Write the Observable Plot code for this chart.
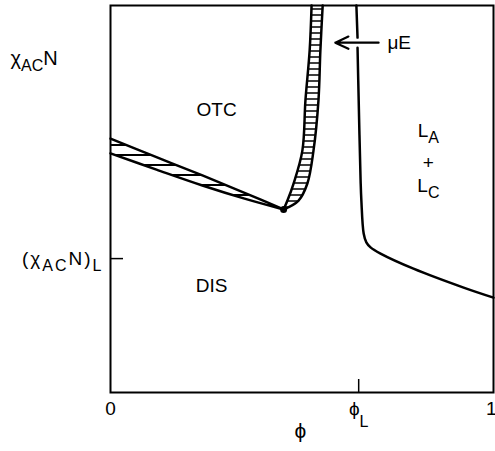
<!DOCTYPE html>
<html><head><meta charset="utf-8">
<script src="https://cdn.jsdelivr.net/npm/d3@7"></script>
<script src="https://cdn.jsdelivr.net/npm/@observablehq/plot@0.6"></script>
<style>
body{margin:0;background:#fff}
svg{font-family:"Liberation Sans",Arial,"DejaVu Sans",sans-serif}
</style>
</head><body><div id="chart"></div>
<script>
// ---- data (x = phi in [0,1], y = chi_AC N scaled to [0,1]) ----
const phiL = 0.648;
const chiL = 0.346;
const xTicks = [0, phiL, 1];
const xTickLabels = ["0", "ϕ_{L}", "1"];
const yTicks = [chiL];
const yTickLabels = ["(χ_{AC}N)_{L}"];

// left hatched band (OTC / DIS boundary), function of phi
const bandPhi   = [0, 0.12, 0.24, 0.35, 0.452];
const bandUpper = [0.656, 0.608, 0.561, 0.516, 0.473];
const bandLower = [0.618, 0.576, 0.535, 0.501, 0.473];

// steep hatched band (OTC / L boundary), function of chi
const vBandChi   = [1.0, 0.884, 0.755, 0.625, 0.540, 0.496, 0.473];
const vBandLeft  = [0.525, 0.520, 0.509, 0.501, 0.478, 0.462, 0.452];
const vBandRight = [0.554, 0.548, 0.543, 0.530, 0.514, 0.491, 0.452];

// Lifshitz point
const lifPhi = [0.452];
const lifChi = [0.473];

// right boundary curve (L_A + L_C), broken where the arrow passes
const curvePhi = [0.642, 0.645, NaN, 0.645, 0.648, 0.653, 0.655, 0.661, 0.668, 0.679, 0.705, 0.791, 0.922, 1.0];
const curveChi = [1.0, 0.917, NaN, 0.891, 0.755, 0.548, 0.496, 0.411, 0.388, 0.375, 0.359, 0.320, 0.271, 0.245];

// muE arrow
const arrowPhi1 = [0.700], arrowPhi2 = [0.587], arrowChi = [0.904];
const arrowLabel = ["μE"];
const arrowLabelPhi = [0.723];

// region labels
const regionText = ["OTC", "DIS", "L_{A}", "+", "L_{C}"];
const regionPhi  = [0.277, 0.264, 0.830, 0.830, 0.830];
const regionChi  = [0.729, 0.276, 0.677, 0.594, 0.535];

// axis titles
const yTitle = ["χ_{AC}N"], yTitlePhi = [-0.261], yTitleChi = [0.864];
const xTitle = ["ϕ"], xTitlePhi = [0.496], xTitleChi = [-0.101];

const idx = a => d3.range(a.length);
const FS = 19;

const plot = Plot.plot({
  width: 495, height: 451,
  marginLeft: 110, marginRight: 2, marginTop: 5, marginBottom: 59,
  x: {domain: [0, 1]},
  y: {domain: [0, 1]},
  style: {fontSize: FS + "px", background: "#fff", color: "#000"},
  marks: [
    Plot.areaY(idx(bandPhi), {x: i => bandPhi[i], y1: i => bandLower[i], y2: i => bandUpper[i], fill: "url(#hatchL)", curve: "catmull-rom"}),
    Plot.areaX(idx(vBandChi), {y: i => vBandChi[i], x1: i => vBandLeft[i], x2: i => vBandRight[i], fill: "url(#hatchV)", curve: "catmull-rom"}),
    Plot.line(idx(bandPhi), {x: i => bandPhi[i], y: i => bandUpper[i], stroke: "black", strokeWidth: 2.5, curve: "catmull-rom"}),
    Plot.line(idx(bandPhi), {x: i => bandPhi[i], y: i => bandLower[i], stroke: "black", strokeWidth: 2.5, curve: "catmull-rom"}),
    Plot.line(idx(vBandChi), {x: i => vBandLeft[i], y: i => vBandChi[i], stroke: "black", strokeWidth: 2.5, curve: "catmull-rom"}),
    Plot.line(idx(vBandChi), {x: i => vBandRight[i], y: i => vBandChi[i], stroke: "black", strokeWidth: 2.5, curve: "catmull-rom"}),
    Plot.line(idx(curvePhi), {x: i => curvePhi[i], y: i => curveChi[i], stroke: "black", strokeWidth: 2.5, curve: "catmull-rom"}),
    Plot.dot(idx(lifPhi), {x: i => lifPhi[i], y: i => lifChi[i], r: 3.5, fill: "black"}),
    Plot.arrow(idx(arrowChi), {x1: i => arrowPhi1[i], x2: i => arrowPhi2[i], y1: i => arrowChi[i], y2: i => arrowChi[i], stroke: "black", strokeWidth: 2.2, headLength: 11, headAngle: 50}),
    Plot.text(idx(arrowLabel), {x: i => arrowLabelPhi[i], y: i => arrowChi[i], text: i => arrowLabel[i], textAnchor: "start", fontSize: FS, ariaLabel: "region"}),
    Plot.text(idx(regionText), {x: i => regionPhi[i], y: i => regionChi[i], text: i => regionText[i], fontSize: FS, ariaLabel: "region"}),
    Plot.text(idx(yTitle), {x: i => yTitlePhi[i], y: i => yTitleChi[i], text: i => yTitle[i], textAnchor: "start", fontSize: FS + 1, ariaLabel: "ytitle"}),
    Plot.text(idx(xTitle), {x: i => xTitlePhi[i], y: i => xTitleChi[i], text: i => xTitle[i], fontSize: FS + 2}),
    Plot.tickX(xTicks.filter(d => d > 0 && d < 1), {x: d => d, stroke: "black", strokeWidth: 1.5, insetTop: 374}),
    Plot.tickY(yTicks, {y: d => d, stroke: "black", strokeWidth: 1.5, insetRight: 370}),
    Plot.axisX({ticks: xTicks, tickFormat: d => xTickLabels[xTicks.indexOf(d)], tickSize: 0, tickPadding: 9, label: null, fontSize: FS}),
    Plot.axisY({ticks: yTicks, tickFormat: d => yTickLabels[yTicks.indexOf(d)], tickSize: 0, tickPadding: 7, label: null, fontSize: FS}),
    Plot.frame({stroke: "black", strokeWidth: 2})
  ]
});

// hatch patterns
const defs = document.createElementNS("http://www.w3.org/2000/svg", "defs");
defs.innerHTML =
  '<pattern id="hatchL" patternUnits="userSpaceOnUse" width="8" height="10">' +
  '<rect width="8" height="10" fill="white"/>' +
  '<line x1="0" y1="5" x2="8" y2="5" stroke="black" stroke-width="2"/></pattern>' +
  '<pattern id="hatchV" patternUnits="userSpaceOnUse" width="8" height="6">' +
  '<rect width="8" height="6" fill="white"/>' +
  '<line x1="0" y1="3" x2="8" y2="3" stroke="black" stroke-width="1.5"/></pattern>';
plot.insertBefore(defs, plot.firstChild);

// subscripts: "_{...}"
function subscriptify(svg) {
  svg.querySelectorAll("text").forEach(t => {
    const s = t.textContent;
    if (!s.includes("_{")) return;
    const g = t.closest("g[aria-label]");
    const isX = g && g.getAttribute("aria-label").startsWith("x-axis");
    const shift = isX ? 12 : 6;
    t.textContent = "";
    const re = /_\{([^}]*)\}/g;
    let last = 0, m; const parts = [];
    while ((m = re.exec(s))) {
      if (m.index > last) parts.push([s.slice(last, m.index), false]);
      parts.push([m[1], true]);
      last = re.lastIndex;
    }
    if (last < s.length) parts.push([s.slice(last), false]);
    let down = false;
    parts.forEach(([txt, sub]) => {
      const sp = document.createElementNS("http://www.w3.org/2000/svg", "tspan");
      sp.textContent = txt;
      if (sub && !down) { sp.setAttribute("dy", shift); down = true; }
      else if (!sub && down) { sp.setAttribute("dy", -shift); down = false; }
      if (sub) sp.setAttribute("font-size", "16");
      t.appendChild(sp);
    });
  });
}
subscriptify(plot);
plot.querySelectorAll('g[aria-label="region"] text').forEach(t => t.setAttribute("letter-spacing", "2.5"));
plot.querySelectorAll('g[aria-label="ytitle"] text').forEach(t => t.setAttribute("letter-spacing", "2"));
plot.querySelectorAll('g[aria-label="y-axis tick label"] text').forEach(t => t.setAttribute("letter-spacing", "2"));
// keep the "1" tick label inside the picture
plot.querySelectorAll('g[aria-label="x-axis tick label"] text').forEach(t => {
  if (t.textContent === "1") { t.setAttribute("text-anchor", "end"); t.setAttribute("dx", "3"); }
});

document.getElementById("chart").appendChild(plot);
</script>
</body></html>
